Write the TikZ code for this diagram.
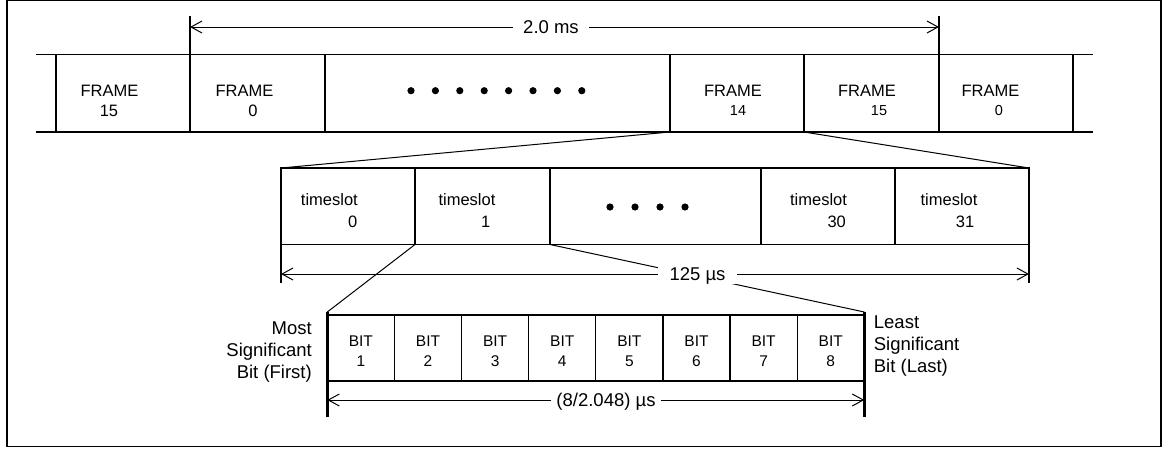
\documentclass[tikz,border=0pt]{standalone}
\usepackage{fontspec}
\setmainfont{Liberation Sans}
\usetikzlibrary{arrows.meta}
\begin{document}
\begin{tikzpicture}[x=1pt,y=-1pt,
  boxline/.style={line width=1.3pt},
  frm/.style={draw, boxline, anchor=north west, minimum height=77.5pt, inner sep=0pt, outer sep=0pt},
  tsl/.style={draw, boxline, anchor=north west, minimum height=76.5pt, inner sep=0pt, outer sep=0pt},
  bitbox/.style={draw, boxline, anchor=north west, minimum height=66pt, minimum width=67.125pt, inner sep=0pt, outer sep=0pt},
  thin/.style={line width=1pt},
  bar/.style={line width=3.3pt},
  dimline/.style={line width=1pt, {Straight Barb[length=11pt,width=12pt]}-{Straight Barb[length=11pt,width=12pt]}},
  txt/.style={inner sep=0pt, font=\fontsize{16.5}{19}\selectfont},
  smalltxt/.style={inner sep=0pt, font=\fontsize{14.5}{17}\selectfont},
  bittxt/.style={inner sep=0pt, font=\fontsize{15.5}{18}\selectfont},
  dimlbl/.style={fill=white, inner ysep=4pt, text depth=0pt, font=\fontsize{18.5}{22}\selectfont},
  sidetxt/.style={inner sep=0pt, font=\fontsize{18.5}{22.3}\selectfont},
  dot/.style={radius=3.6pt}
]
\useasboundingbox (0,0) rectangle (1162,448);
\draw[boxline] (7,0.8) rectangle (1161,446.5);

% ---------- frame row ----------
\node[frm, minimum width=134pt] (fa) at (56,54.5) {};
\node[frm, minimum width=135pt] (fb) at (190,54.5) {};
\node[frm, minimum width=345pt] (fc) at (325,54.5) {};
\node[frm, minimum width=134pt] (fd) at (670,54.5) {};
\node[frm, minimum width=135pt] (fe) at (804,54.5) {};
\node[frm, minimum width=134pt] (ff) at (939,54.5) {};
\coordinate (sl1) at (36,54.5);
\coordinate (sl2) at (36,132);
\coordinate (sr1) at (1093,54.5);
\coordinate (sr2) at (1093,132);
\draw[boxline] (sl1) -- (fa.north west) (sl2) -- (fa.south west)
               (ff.north east) -- (sr1) (ff.south east) -- (sr2);

\node[txt] (fat) at (109.5,90.7) {FRAME};
\node[txt] (fan) at (109,111) {15};
\node[txt] (fbt) at (244.5,90.7) {FRAME};
\node[txt] (fbn) at (253,111) {0};
\node[txt] (fdt) at (733,90.7) {FRAME};
\node[smalltxt] (fdn) at (738,111) {14};
\node[txt] (fet) at (867,90.7) {FRAME};
\node[smalltxt] (fen) at (879,111) {15};
\node[txt] (fft) at (990.5,90.7) {FRAME};
\node[smalltxt] (ffn) at (999,111) {0};
\foreach \k in {0,...,7} \fill ({411+24.4*\k},90.7) circle[dot];

% 2.0 ms dimension
\coordinate (ta) at (190,16);
\coordinate (tb) at (939,16);
\coordinate (da) at (190,27);
\coordinate (db) at (939,27);
\draw[boxline] (fb.north west) -- (ta) (ff.north west) -- (tb);
\draw[dimline] (da) -- (db);

% ---------- timeslot row ----------
\node[tsl, minimum width=134pt] (t0) at (281,168) {};
\node[tsl, minimum width=135pt] (t1) at (415,168) {};
\node[tsl, minimum width=211pt] (tc) at (550,168) {};
\node[tsl, minimum width=134pt] (t30) at (761,168) {};
\node[tsl, minimum width=134pt] (t31) at (895,168) {};
\node[txt] (t0t) at (329.4,200) {timeslot};
\node[txt] (t0n) at (352.7,221.7) {0};
\node[txt] (t1t) at (467,200) {timeslot};
\node[txt] (t1n) at (485.7,221.7) {1};
\node[txt] (t30t) at (818.5,200) {timeslot};
\node[txt] (t30n) at (836.7,221.7) {30};
\node[txt] (t31t) at (949,200) {timeslot};
\node[txt] (t31n) at (965,221.7) {31};
\foreach \k in {0,...,3} \fill ({610+25*\k},207) circle[dot];

\coordinate (tta) at (281,283);
\coordinate (ttb) at (1029,283);
\coordinate (tda) at (281,274);
\coordinate (tdb) at (1029,274);
\draw[boxline] (t0.south west) -- (tta) (t31.south east) -- (ttb);

% zoom lines frame 14 -> timeslots
\draw[thin] (fd.south west) -- (t0.north west);
\draw[thin] (fd.south east) -- (t31.north east);

% ---------- bit row ----------
\foreach \i in {1,...,8} {
  \node[bitbox] (b\i) at ({327.3+67.125*(\i-1)},315) {};
  \node[bittxt] (bt\i) at ({327.3+67.125*(\i-0.5)},340.7) {BIT};
  \node[bittxt] (bn\i) at ({327.3+67.125*(\i-0.5)},361) {\i};
}
\coordinate (mt) at (327.3,312);
\coordinate (mb) at (327.3,417);
\coordinate (lt) at (864.3,312);
\coordinate (lb) at (864.3,417);
\draw[bar] (mt) -- (mb) (lt) -- (lb);
\coordinate (bda) at (327.3,400);
\coordinate (bdb) at (864.3,400);

% zoom lines timeslot 1 -> bits
\draw[thin] (t1.south west) -- (mt);
\draw[thin] (t1.south east) -- (lt);

\draw[dimline] (tda) -- (tdb);
\draw[dimline] (bda) -- (bdb);

\node[dimlbl, inner xsep=10pt] (lms) at (551,27) {2.0 ms};
\node[dimlbl, inner xsep=12pt] (lus) at (697.5,274) {125 µs};
\node[dimlbl, inner xsep=5pt] (lbit) at (606,400) {(8/2.048) µs};

\node[sidetxt, align=right, anchor=east] (msb) at (312,352) {Most\\Significant\\Bit (First)};
\node[sidetxt, align=left, anchor=west] (lsb) at (873.7,346) {Least\\Significant\\Bit (Last)};
\end{tikzpicture}
\end{document}
